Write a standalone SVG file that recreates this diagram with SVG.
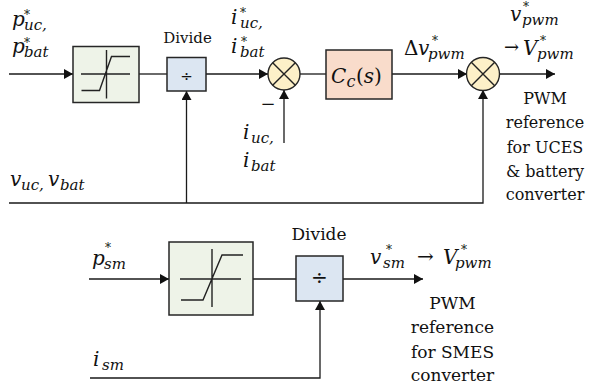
<svg xmlns="http://www.w3.org/2000/svg" width="590" height="387" viewBox="0 0 590 387">
<defs>
<marker id="ah" markerUnits="userSpaceOnUse" markerWidth="10" markerHeight="10" refX="9" refY="5" orient="auto">
<path d="M0,0 L9,5 L0,10 z" fill="#111"/>
</marker>
<style>
.w{fill:none;stroke:#1a1a1a;stroke-width:1.3}
.a{marker-end:url(#ah)}
.box{stroke:#262626;stroke-width:1.5}
.sat{fill:#eef3e8}
.div{fill:#dce6f2}
.cc{fill:#f9dccb}
.sum{fill:#fdf0c8;stroke:#262626;stroke-width:1.4}
.in{fill:none;stroke:#222;stroke-width:1.4}
.t{font-family:"DejaVu Serif","Liberation Serif",serif;fill:#111}
.m{font-family:"DejaVu Serif","Liberation Serif",serif;font-style:italic;fill:#111;font-size:20px}
.s{font-size:15px}
.st{font-size:12px;font-style:normal}
.up{font-style:normal}
</style>
</defs>
<rect width="590" height="387" fill="#fff"/>

<g id="connectors">
<path class="w a" d="M9,74 H73"/>
<path class="w" d="M139,74 H167"/>
<path class="w a" d="M206,74 H268"/>
<path class="w a" d="M284,143 V90"/>
<path class="w" d="M300,74 H326"/>
<path class="w a" d="M392,74 H467"/>
<path class="w a" d="M499,74 H555"/>
<path class="w a" d="M9,203 H483 V90"/>
<path class="w a" d="M186.5,203 V91"/>
<path class="w a" d="M89,279 H169"/>
<path class="w" d="M253,279 H296"/>
<path class="w a" d="M343,279 H423"/>
<path class="w a" d="M90,378 H320 V301"/>
</g>

<g id="sat1">
<rect class="box sat" x="73" y="46.5" width="66" height="56"/>
<path class="in" d="M81,74 H130 M106.5,50 V98.5 M81.5,90.5 H99.5 L111.5,56.5 H130"/>
</g>
<g id="div1">
<rect class="box div" x="167" y="57.5" width="39" height="33.5"/>
<text class="t" x="186.5" y="80.5" font-size="15" text-anchor="middle">÷</text>
<text class="t" x="187.5" y="42.5" font-size="15" text-anchor="middle">Divide</text>
</g>
<g id="sum1">
<circle class="sum" cx="284" cy="74" r="16"/>
<path class="in" d="M272.7,62.7 L295.3,85.3 M295.3,62.7 L272.7,85.3"/>
</g>
<g id="cc">
<rect class="box cc" x="326" y="50" width="66" height="49"/>
<text class="m" font-size="22"><tspan x="331" y="83">C</tspan><tspan x="346.5" y="87" font-size="16">c</tspan><tspan x="356" y="83"><tspan class="up">(</tspan>s<tspan class="up">)</tspan></tspan></text>
</g>
<g id="sum2">
<circle class="sum" cx="483" cy="74" r="16.5"/>
<path class="in" d="M471.3,62.3 L494.7,85.7 M494.7,62.3 L471.3,85.7"/>
</g>
<g id="sat2">
<rect class="box sat" x="169" y="242" width="84" height="73"/>
<path class="in" d="M180,279 H241 M212,249 V307 M181,300 H203 L222,255 H243"/>
</g>
<g id="div2">
<rect class="box div" x="296" y="256" width="47" height="45"/>
<text class="t" x="319.5" y="283.5" font-size="20" text-anchor="middle">÷</text>
<text class="t" x="319" y="240" font-size="17" text-anchor="middle">Divide</text>
</g>

<g id="labels">
<text class="m"><tspan x="12" y="26">p</tspan><tspan class="st" x="24" y="19">*</tspan><tspan class="s" x="24" y="30">uc,</tspan></text>
<text class="m"><tspan x="12" y="53">p</tspan><tspan class="st" x="24" y="47">*</tspan><tspan class="s" x="24" y="57">bat</tspan></text>
<text class="m"><tspan x="231" y="24">i</tspan><tspan class="st" x="240" y="17">*</tspan><tspan class="s" x="240" y="28">uc,</tspan></text>
<text class="m"><tspan x="231" y="53">i</tspan><tspan class="st" x="241" y="46">*</tspan><tspan class="s" x="240" y="57">bat</tspan></text>
<text class="t" x="268" y="110" font-size="18" text-anchor="middle">−</text>
<text class="m"><tspan x="243" y="139">i</tspan><tspan class="s" x="251" y="143">uc,</tspan></text>
<text class="m"><tspan x="243" y="167">i</tspan><tspan class="s" x="251" y="171">bat</tspan></text>
<text class="m"><tspan x="10" y="186">v</tspan><tspan class="s" x="21" y="190">uc,</tspan><tspan x="48" y="186">v</tspan><tspan class="s" x="60" y="190">bat</tspan></text>
<text class="m"><tspan class="up" x="404" y="55">Δ</tspan><tspan x="418" y="55">v</tspan><tspan class="st" x="432" y="45">*</tspan><tspan class="s" x="428" y="59">pwm</tspan></text>
<text class="m"><tspan x="510" y="21">v</tspan><tspan class="st" x="523" y="11">*</tspan><tspan class="s" x="522" y="25">pwm</tspan></text>
<text class="m"><tspan class="up" x="504" y="53" font-size="18">→</tspan><tspan x="523" y="55">V</tspan><tspan class="st" x="540" y="45">*</tspan><tspan class="s" x="537" y="59">pwm</tspan></text>
<text class="t" font-size="16" text-anchor="middle"><tspan x="545" y="104">PWM</tspan><tspan x="545" y="128">reference</tspan><tspan x="545" y="153">for UCES</tspan><tspan x="545" y="177">&amp; battery</tspan><tspan x="545" y="200">converter</tspan></text>
<text class="m" font-size="22"><tspan x="92" y="265">p</tspan><tspan class="st" x="105" y="252" font-size="13">*</tspan><tspan class="s" x="104" y="269" font-size="17">sm</tspan></text>
<text class="m" font-size="22"><tspan x="93" y="366">i</tspan><tspan class="s" x="102" y="370" font-size="17">sm</tspan></text>
<text class="m" font-size="22"><tspan x="370" y="264">v</tspan><tspan class="st" x="386" y="254" font-size="13">*</tspan><tspan class="s" x="383" y="268" font-size="17">sm</tspan><tspan class="up" x="417" y="263" font-size="20">→</tspan><tspan x="443" y="264">V</tspan><tspan class="st" x="461" y="254" font-size="13">*</tspan><tspan class="s" x="455" y="268" font-size="17">pwm</tspan></text>
<text class="t" font-size="17" text-anchor="middle"><tspan x="452.5" y="309">PWM</tspan><tspan x="452.5" y="333">reference</tspan><tspan x="452.5" y="358">for SMES</tspan><tspan x="452.5" y="381">converter</tspan></text>
</g>
</svg>
